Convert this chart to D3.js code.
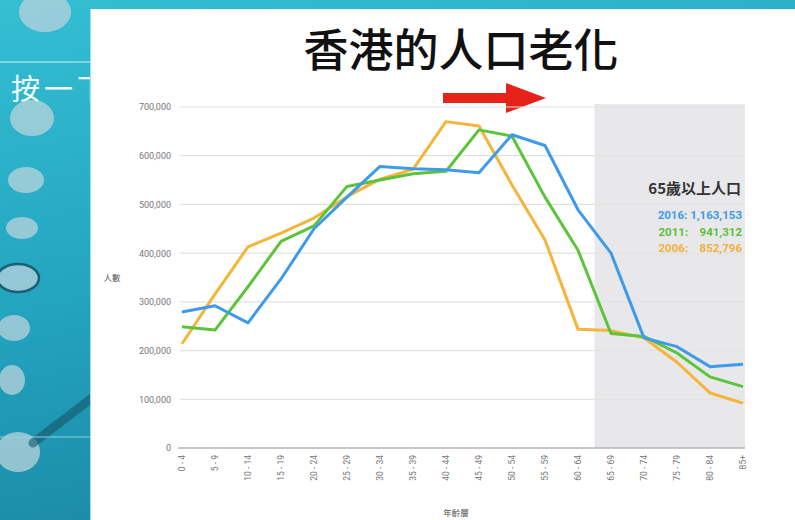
<!DOCTYPE html>
<html>
<head>
<meta charset="utf-8">
<script src="https://cdn.jsdelivr.net/npm/d3@7"></script>
<style>
	body { margin: 0; background: #fff; }
	svg { display: block; }
</style>
</head>
<body>
<svg id="chart" width="795" height="520"></svg>
<script>
const ageGroups = ["0 - 4", "5 - 9", "10 - 14", "15 - 19", "20 - 24", "25 - 29", "30 - 34", "35 - 39", "40 - 44",
	"45 - 49", "50 - 54", "55 - 59", "60 - 64", "65 - 69", "70 - 74", "75 - 79", "80 - 84", "85+"];

const pop2016 = [279000, 292000, 257000, 347000, 450000, 515000, 578000, 573000, 571000, 565000, 643000, 621000, 489000, 400000, 226000, 208000, 167000, 172000];
const pop2011 = [249000, 242000, 331000, 424000, 456000, 537000, 550000, 563000, 568000, 653000, 640000, 515000, 406000, 235000, 229000, 195000, 146000, 126000];
const pop2006 = [214000, 316000, 413000, 441000, 472000, 516000, 552000, 572000, 670000, 661000, 540000, 427000, 244000, 241000, 226000, 176000, 113000, 92000];

const yTicks = [0, 100000, 200000, 300000, 400000, 500000, 600000, 700000];
const elderly = [
	{label: "2016: 1,163,153", color: "#3f9ae8"},
	{label: "2011:    941,312", color: "#5cbf3a"},
	{label: "2006:    852,796", color: "#f2b13c"}
];

const series = [
	{name: "2006", values: pop2006, color: "#f5b43a"},
	{name: "2011", values: pop2011, color: "#5cc43a"},
	{name: "2016", values: pop2016, color: "#3f9be9"}
];

const svg = d3.select("#chart");
const defs = svg.append("defs");

// slide background behind the white panel
const bg = defs.append("linearGradient")
	.attr("id", "slideBg")
	.attr("x1", 0).attr("y1", 0).attr("x2", 0.3).attr("y2", 1);
bg.append("stop").attr("offset", "0%").attr("stop-color", "#34bfd3");
bg.append("stop").attr("offset", "55%").attr("stop-color", "#23a4bf");
bg.append("stop").attr("offset", "100%").attr("stop-color", "#1b8aa6");

svg.append("rect")
	.attr("width", 795).attr("height", 520)
	.attr("fill", "url(#slideBg)");

const bubbles = [[45, 12, 26, 20], [32, 118, 22, 18], [26, 180, 18, 13], [22, 228, 16, 11], [18, 278, 20, 14], [14, 328, 16, 13], [12, 380, 13, 15], [18, 452, 22, 20]];
svg.append("g").selectAll("ellipse")
	.data(bubbles)
	.join("ellipse")
	.attr("cx", d => d[0]).attr("cy", d => d[1])
	.attr("rx", d => d[2]).attr("ry", d => d[3])
	.attr("fill", "#b9d3dc")
	.attr("opacity", 0.75);

svg.append("ellipse")
	.attr("cx", 18).attr("cy", 278).attr("rx", 21).attr("ry", 14)
	.attr("fill", "none").attr("stroke", "#1c5f73").attr("stroke-width", 2.5);

svg.append("path")
	.attr("d", "M33,443 L92,398")
	.attr("stroke", "#17566c").attr("stroke-width", 9).attr("opacity", 0.6)
	.attr("stroke-linecap", "round");

svg.append("line")
	.attr("x1", 0).attr("x2", 92).attr("y1", 62).attr("y2", 62)
	.attr("stroke", "#d8f1f6").attr("stroke-width", 1);
svg.append("line")
	.attr("x1", 0).attr("x2", 92).attr("y1", 437).attr("y2", 437)
	.attr("stroke", "#8fd3e0").attr("stroke-width", 1);

svg.append("text")
	.attr("x", 11).attr("y", 100)
	.attr("font-family", "Noto Sans CJK TC")
	.attr("font-size", 29)
	.attr("letter-spacing", 4)
	.attr("fill", "#f2fbfd")
	.text("按一下");

// white panel
svg.append("rect")
	.attr("x", 90).attr("y", 9).attr("width", 705).attr("height", 511)
	.attr("fill", "#fff");
svg.append("line")
	.attr("x1", 90.5).attr("x2", 90.5).attr("y1", 9).attr("y2", 520)
	.attr("stroke", "#9fe0ee").attr("stroke-width", 1);

svg.append("text")
	.attr("x", 461).attr("y", 67)
	.attr("text-anchor", "middle")
	.attr("font-family", "Noto Sans CJK TC")
	.attr("font-weight", 500)
	.attr("font-size", 45)
	.attr("fill", "#111")
	.text("香港的人口老化");

// red arrow
svg.append("path")
	.attr("d", "M443,93 L506,93 L506,83 L546,98 L506,113 L506,103 L443,103 Z")
	.attr("fill", "#e5231b");

const x = d3.scalePoint()
	.domain(ageGroups)
	.range([182, 743]);

const y = d3.scaleLinear()
	.domain([0, 700000])
	.range([448, 107]);

const step = x.step();

// 65+ shaded block
svg.append("rect")
	.attr("x", x("65 - 69") - step / 2)
	.attr("y", y(700000) - 3)
	.attr("width", x("85+") + 2 - (x("65 - 69") - step / 2))
	.attr("height", y(0) - y(700000) + 3)
	.attr("fill", "#e8e8ea");

const grid = svg.append("g")
	.attr("class", "grid");

grid.selectAll("line")
	.data(yTicks.filter(t => t > 0))
	.join("line")
	.attr("x1", 180).attr("x2", 745)
	.attr("y1", d => y(d)).attr("y2", d => y(d))
	.attr("stroke", "#e2e2e2").attr("stroke-width", 1.2);

const yAxis = svg.append("g")
	.attr("transform", "translate(171,0)")
	.call(d3.axisLeft(y).tickValues(yTicks).tickSize(0).tickPadding(0).tickFormat(d3.format(",")));
yAxis.select(".domain").remove();
yAxis.selectAll("text")
	.attr("font-family", "Roboto")
	.attr("font-size", 9)
	.attr("fill", "#777");

svg.append("line")
	.attr("x1", 178).attr("x2", 745)
	.attr("y1", y(0)).attr("y2", y(0))
	.attr("stroke", "#b5b5b5").attr("stroke-width", 1.5);

const xAxis = svg.append("g")
	.attr("transform", "translate(0," + (y(0) + 4) + ")")
	.call(d3.axisBottom(x).tickSize(0).tickPadding(0));
xAxis.select(".domain").remove();

// labels read upwards, ending at the axis
xAxis.selectAll("text")
	.attr("transform", "rotate(-90)")
	.attr("text-anchor", "end")
	.attr("x", -3).attr("y", 0)
	.attr("dy", "0.35em")
	.attr("font-family", "Roboto")
	.attr("font-size", 8.5)
	.attr("fill", "#777");

svg.append("text")
	.attr("x", 112).attr("y", 281)
	.attr("text-anchor", "middle")
	.attr("font-family", "Noto Sans CJK TC")
	.attr("font-size", 8.5)
	.attr("fill", "#555")
	.text("人數");

svg.append("text")
	.attr("x", 456).attr("y", 516)
	.attr("text-anchor", "middle")
	.attr("font-family", "Noto Sans CJK TC")
	.attr("font-size", 8.5)
	.attr("fill", "#555")
	.text("年齡層");

const line = d3.line()
	.x((d, i) => x(ageGroups[i]))
	.y(d => y(d));

svg.append("g")
	.selectAll("path")
	.data(series)
	.join("path")
	.attr("d", d => line(d.values))
	.attr("fill", "none")
	.attr("stroke", d => d.color)
	.attr("stroke-width", 3)
	.attr("stroke-linejoin", "round");

svg.append("text")
	.attr("x", 741).attr("y", 194)
	.attr("text-anchor", "end")
	.attr("font-family", "Noto Sans CJK TC")
	.attr("font-weight", 700)
	.attr("font-size", 15)
	.attr("fill", "#333")
	.text("65歲以上人口");

svg.append("g")
	.selectAll("text")
	.data(elderly)
	.join("text")
	.attr("x", 742)
	.attr("y", (d, i) => 219 + i * 16.5)
	.attr("text-anchor", "end")
	.attr("font-family", "Roboto")
	.attr("font-weight", 700)
	.attr("font-size", 11.5)
	.attr("fill", d => d.color)
	.attr("xml:space", "preserve")
	.style("white-space", "pre")
	.text(d => d.label);
</script>
</body>
</html>
